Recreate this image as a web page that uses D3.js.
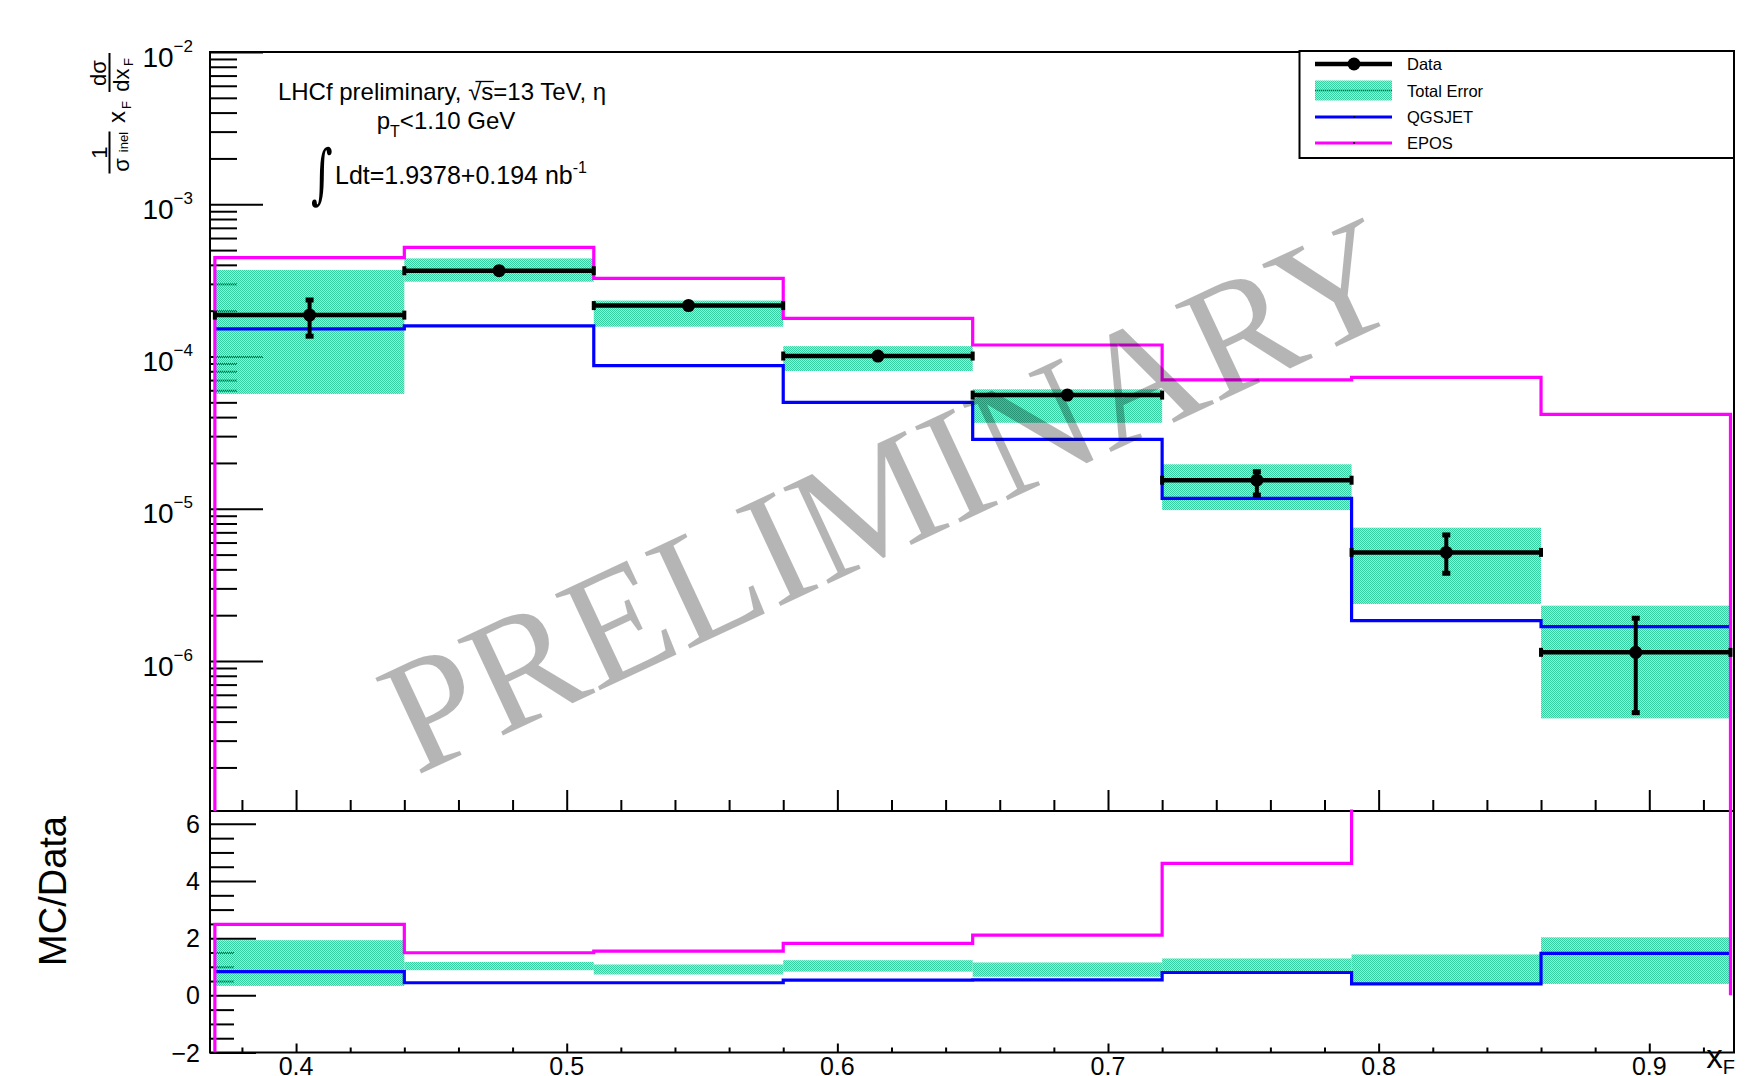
<!DOCTYPE html>
<html>
<head>
<meta charset="utf-8">
<script src="https://cdn.jsdelivr.net/npm/d3@7"></script>
<style>
  body { margin: 0; background: #fff; }
  svg { display: block; }
  text { font-family: "Liberation Sans", Arial, Helvetica, sans-serif; fill: #000; }
  text.serif { font-family: "Liberation Serif", "Times New Roman", serif; }
  text.intsign { font-family: "DejaVu Serif", "Liberation Serif", serif; }
</style>
</head>
<body>
<svg id="chart" width="1756" height="1076"></svg>
<script>
// ---- data: eta production cross section vs x_F (8 bins of width 0.07) ----
const binEdges = [0.37, 0.44, 0.51, 0.58, 0.65, 0.72, 0.79, 0.86, 0.93];
const dataValues   = [1.87e-4, 3.66e-4, 2.16e-4, 1.007e-4, 5.58e-5, 1.54e-5, 5.17e-6, 1.14e-6];
const statLow      = [1.36e-4, 3.55e-4, 2.10e-4, 0.98e-4, 5.40e-5, 1.23e-5, 3.77e-6, 4.58e-7];
const statHigh     = [2.35e-4, 3.80e-4, 2.24e-4, 1.04e-4, 5.80e-5, 1.75e-5, 6.73e-6, 1.91e-6];
const totalErrLow  = [5.68e-5, 3.10e-4, 1.57e-4, 8.03e-5, 3.67e-5, 9.8e-6, 2.37e-6, 4.20e-7];
const totalErrHigh = [3.70e-4, 4.41e-4, 2.33e-4, 1.17e-4, 6.09e-5, 1.96e-5, 7.51e-6, 2.31e-6];
const qgsjetValues = [1.52e-4, 1.59e-4, 8.71e-5, 5.0e-5, 2.86e-5, 1.17e-5, 1.84e-6, 1.68e-6];
const eposValues   = [4.46e-4, 5.21e-4, 3.26e-4, 1.78e-4, 1.19e-4, 7.02e-5, 7.29e-5, 4.17e-5];

// MC / Data ratios
const ratioErrLow  = [0.33, 0.88, 0.73, 0.83, 0.65, 0.80, 0.42, 0.40];
const ratioErrHigh = [1.93, 1.17, 1.08, 1.23, 1.15, 1.29, 1.43, 2.03];
const ratioQgsjet  = [0.83, 0.44, 0.44, 0.53, 0.54, 0.80, 0.40, 1.47];
const ratioEpos    = [2.48, 1.49, 1.55, 1.82, 2.11, 4.62, 14.1, 36.6];

// ticks and labels
const xMajorTicks = [0.4, 0.5, 0.6, 0.7, 0.8, 0.9];
const xTickLabels = ["0.4", "0.5", "0.6", "0.7", "0.8", "0.9"];
const yDecades = [-2, -3, -4, -5, -6];
const ratioMajorTicks = [-2, 0, 2, 4, 6];
const ratioTickLabels = ["\u22122", "0", "2", "4", "6"];
const legendLabels = ["Data", "Total Error", "QGSJET", "EPOS"];

// ---- geometry ----
const left = 210, right = 1734;
const topY = 52, midY = 811, botY = 1052.5;
const C_EPOS = "#ff00ff", C_QGS = "#0000ff", C_ERR = "#36cfa4";

const svg = d3.select("#chart");
const x = d3.scaleLinear().domain([0.3682, 0.9313]).range([left, right]);
const y = d3.scaleLog().domain([1e-2, 1.035e-7]).range([topY, midY]);
const yr = d3.scaleLinear().domain([-2, 6.45]).range([botY, midY]);

// fill pattern for the total-error band (semi-transparent dot texture)
const defs = svg.append("defs");
const pat = defs.append("pattern").attr("id", "errfill")
  .attr("patternUnits", "userSpaceOnUse").attr("width", 2).attr("height", 2);
pat.append("rect").attr("width", 2).attr("height", 2).attr("fill", C_ERR).attr("fill-opacity", 0.45);
pat.append("rect").attr("width", 1).attr("height", 1).attr("fill", C_ERR);
pat.append("rect").attr("x", 1).attr("y", 1).attr("width", 1).attr("height", 1).attr("fill", C_ERR);

defs.append("clipPath").attr("id", "clipTop").append("rect")
  .attr("x", left).attr("y", topY).attr("width", right - left).attr("height", midY - topY);
defs.append("clipPath").attr("id", "clipBot").append("rect")
  .attr("x", left).attr("y", midY - 1.5).attr("width", right - left).attr("height", botY - midY + 1.5);

const bins = d3.range(binEdges.length - 1).map(i => ({
  lo: binEdges[i], hi: binEdges[i + 1], mid: (binEdges[i] + binEdges[i + 1]) / 2,
  val: dataValues[i], sLo: statLow[i], sHi: statHigh[i],
  eLo: totalErrLow[i], eHi: totalErrHigh[i],
  rLo: ratioErrLow[i], rHi: ratioErrHigh[i]
}));

// ---- axes: ticks ----
function minorValues(step, from, to, majors) {
  const out = [];
  for (let v = from; v <= to + 1e-9; v += step) {
    const r = Math.round(v * 1000) / 1000;
    if (!majors.some(m => Math.abs(m - r) < 1e-6)) out.push(r);
  }
  return out;
}
const xMinor = minorValues(0.02, 0.38, 0.92, xMajorTicks);

function tickAxis(axis, tx, ty) {
  svg.append("g").attr("transform", `translate(${tx},${ty})`)
    .call(axis)
    .call(g => g.select(".domain").remove())
    .call(g => g.selectAll("line").attr("stroke", "#000").attr("stroke-width", 2));
}
// top panel x ticks (pointing up from the bottom of the panel)
tickAxis(d3.axisBottom(x).tickValues(xMajorTicks).tickSize(-21).tickFormat(""), 0, midY);
tickAxis(d3.axisBottom(x).tickValues(xMinor).tickSize(-11).tickFormat(""), 0, midY);
// bottom panel x ticks
tickAxis(d3.axisBottom(x).tickValues(xMajorTicks).tickSize(-9).tickFormat(""), 0, botY);
tickAxis(d3.axisBottom(x).tickValues(xMinor).tickSize(-5).tickFormat(""), 0, botY);

// log y ticks
const yMajorVals = yDecades.map(d => Math.pow(10, d));
const yMinorVals = [];
for (let d = -8; d <= -3; d++) for (let k = 2; k <= 9; k++) {
  const v = k * Math.pow(10, d);
  if (v > 1.035e-7 && v < 1e-2) yMinorVals.push(v);
}
tickAxis(d3.axisLeft(y).tickValues(yMajorVals).tickSize(-53).tickFormat(""), left, 0);
tickAxis(d3.axisLeft(y).tickValues(yMinorVals).tickSize(-27).tickFormat(""), left, 0);

// ratio y ticks
const rMinor = minorValues(0.5, -1.5, 6, ratioMajorTicks);
tickAxis(d3.axisLeft(yr).tickValues(ratioMajorTicks).tickSize(-46).tickFormat(""), left, 0);
tickAxis(d3.axisLeft(yr).tickValues(rMinor).tickSize(-24).tickFormat(""), left, 0);

// frames
svg.append("rect").attr("x", left).attr("y", topY).attr("width", right - left).attr("height", midY - topY)
  .attr("fill", "none").attr("stroke", "#000").attr("stroke-width", 2);
svg.append("rect").attr("x", left).attr("y", midY).attr("width", right - left).attr("height", botY - midY)
  .attr("fill", "none").attr("stroke", "#000").attr("stroke-width", 2);

// ---- tick labels ----
const yLab = svg.append("g");
yDecades.forEach(d => {
  const t = yLab.append("text").attr("x", 193).attr("y", y(Math.pow(10, d)) + 14.5)
    .attr("text-anchor", "end").attr("font-size", 28);
  t.append("tspan").text("10");
  t.append("tspan").attr("dy", -15).attr("font-size", 17).text("\u2212" + (-d));
});
ratioMajorTicks.forEach((v, i) => {
  svg.append("text").attr("x", 200).attr("y", yr(v) + 9).attr("text-anchor", "end")
    .attr("font-size", 25).text(ratioTickLabels[i]);
});
xMajorTicks.forEach((v, i) => {
  svg.append("text").attr("x", x(v)).attr("y", 1074.5).attr("text-anchor", "middle")
    .attr("font-size", 25).text(xTickLabels[i]);
});
// x axis title
const xt = svg.append("text").attr("x", 1735).attr("y", 1068).attr("text-anchor", "end").attr("font-size", 33);
xt.append("tspan").text("x");
xt.append("tspan").attr("dy", 6).attr("font-size", 20).text("F");

// ratio axis title
svg.append("text").attr("transform", "translate(66,891) rotate(-90)")
  .attr("text-anchor", "middle").attr("font-size", 38).text("MC/Data");

// top y axis title: 1/sigma_inel x_F dsigma/dx_F
function rtext(px, py, size, str) {
  return svg.append("text").attr("transform", `translate(${px},${py}) rotate(-90)`)
    .attr("text-anchor", "middle").attr("font-size", size).text(str);
}
rtext(107, 152.5, 22, "1");
svg.append("line").attr("x1", 109.5).attr("x2", 109.5).attr("y1", 131.5).attr("y2", 173.5)
  .attr("stroke", "#000").attr("stroke-width", 2);
rtext(129, 165, 22, "\u03c3");
rtext(128, 142, 13, "inel");
rtext(124.5, 117, 24, "x");
rtext(131, 105, 13, "F");
rtext(106, 73, 22, "d\u03c3");
svg.append("line").attr("x1", 109.5).attr("x2", 109.5).attr("y1", 53).attr("y2", 92)
  .attr("stroke", "#000").attr("stroke-width", 2);
rtext(128.5, 80, 22, "dx");
rtext(133, 62, 13, "F");

// ---- annotation ----
const ann = svg.append("text").attr("x", 442).attr("y", 100).attr("text-anchor", "middle").attr("font-size", 24);
ann.append("tspan").text("LHCf preliminary, \u221a");
ann.append("tspan").text("s");
ann.append("tspan").text("=13 TeV, \u03b7");
const pt = svg.append("text").attr("x", 446).attr("y", 129).attr("text-anchor", "middle").attr("font-size", 24);
pt.append("tspan").text("p");
pt.append("tspan").attr("dy", 8).attr("font-size", 16).text("T");
pt.append("tspan").attr("dy", -8).text("<1.10 GeV");
svg.append("text").attr("class", "intsign").attr("transform", "translate(311,196) scale(0.8,1.25)")
  .attr("font-size", 52).text("\u222b");
const lum = svg.append("text").attr("x", 335).attr("y", 184).attr("font-size", 25);
lum.append("tspan").text("Ldt=1.9378+0.194 nb");
lum.append("tspan").attr("dy", -11).attr("font-size", 16).text("-1");

// overbar on the s of sqrt(s)
{
  const node = ann.node();
  const full = ann.text();
  const idx = full.indexOf("\u221a") + 1;
  const ext = node.getExtentOfChar(idx);
  const extR = node.getExtentOfChar(idx - 1);
  svg.append("line").attr("x1", extR.x + extR.width * 0.55).attr("x2", ext.x + ext.width + 0.5)
    .attr("y1", ext.y + 3.5).attr("y2", ext.y + 3.5).attr("stroke", "#000").attr("stroke-width", 1.3);
}

// ---- plot contents: top panel ----
const gTop = svg.append("g").attr("clip-path", "url(#clipTop)");

// total error bands
gTop.selectAll("rect.band").data(bins).join("rect").attr("class", "band")
  .attr("x", d => x(d.lo)).attr("width", d => x(d.hi) - x(d.lo))
  .attr("y", d => y(d.eHi)).attr("height", d => y(d.eLo) - y(d.eHi))
  .attr("fill", "url(#errfill)");

function stepPoints(values) {
  const pts = [];
  values.forEach((v, i) => { pts.push([binEdges[i], v]); pts.push([binEdges[i + 1], v]); });
  return pts;
}
const lineTop = d3.line().x(p => x(p[0])).y(p => y(p[1]));
const lineBot = d3.line().x(p => x(p[0])).y(p => yr(p[1]));

// QGSJET
gTop.append("path").attr("d", lineTop(stepPoints(qgsjetValues)))
  .attr("fill", "none").attr("stroke", C_QGS).attr("stroke-width", 3.2);
// EPOS (histogram outline closed to the bottom of the panel)
{
  const yMin = y.domain()[1];
  const pts = [[binEdges[0], yMin], ...stepPoints(eposValues), [binEdges[binEdges.length - 1], yMin]];
  svg.append("path").attr("d", lineTop(pts))
    .attr("fill", "none").attr("stroke", C_EPOS).attr("stroke-width", 3.2);
}

// data points
const gData = svg.append("g");
bins.forEach(d => {
  const cy = y(d.val), cx = x(d.mid);
  gData.append("line").attr("x1", x(d.lo)).attr("x2", x(d.hi)).attr("y1", cy).attr("y2", cy)
    .attr("stroke", "#000").attr("stroke-width", 4.5);
  [d.lo, d.hi].forEach(e => gData.append("line").attr("x1", x(e)).attr("x2", x(e))
    .attr("y1", cy - 4.5).attr("y2", cy + 4.5).attr("stroke", "#000").attr("stroke-width", 4));
  gData.append("line").attr("x1", cx).attr("x2", cx).attr("y1", y(d.sHi)).attr("y2", y(d.sLo))
    .attr("stroke", "#000").attr("stroke-width", 4);
  [d.sHi, d.sLo].forEach(e => gData.append("line").attr("x1", cx - 4).attr("x2", cx + 4)
    .attr("y1", y(e)).attr("y2", y(e)).attr("stroke", "#000").attr("stroke-width", 5));
  gData.append("circle").attr("cx", cx).attr("cy", cy).attr("r", 6.5).attr("fill", "#000");
});

// ---- ratio panel ----
const gBot = svg.append("g").attr("clip-path", "url(#clipBot)");
gBot.selectAll("rect.rband").data(bins).join("rect").attr("class", "rband")
  .attr("x", d => x(d.lo)).attr("width", d => x(d.hi) - x(d.lo))
  .attr("y", d => yr(d.rHi)).attr("height", d => yr(d.rLo) - yr(d.rHi))
  .attr("fill", "url(#errfill)");
gBot.append("path").attr("d", lineBot(stepPoints(ratioQgsjet)))
  .attr("fill", "none").attr("stroke", C_QGS).attr("stroke-width", 3.2);
{
  const pts = [[binEdges[0], yr.domain()[0]], ...stepPoints(ratioEpos), [binEdges[binEdges.length - 1], 0]];
  gBot.append("path").attr("d", lineBot(pts))
    .attr("fill", "none").attr("stroke", C_EPOS).attr("stroke-width", 3.2);
}

// ---- legend ----
const lg = svg.append("g");
lg.append("rect").attr("x", 1299.5).attr("y", 51).attr("width", 434.5).attr("height", 107)
  .attr("fill", "#fff").attr("stroke", "#000").attr("stroke-width", 2);
const legY = [64, 90.5, 117, 143];
const sx1 = 1315, sx2 = 1392, smid = 1354;
// Data
lg.append("line").attr("x1", sx1).attr("x2", sx2).attr("y1", legY[0]).attr("y2", legY[0])
  .attr("stroke", "#000").attr("stroke-width", 4.5);
lg.append("circle").attr("cx", smid).attr("cy", legY[0]).attr("r", 6.5).attr("fill", "#000");
// Total error
lg.append("line").attr("x1", sx1).attr("x2", sx2).attr("y1", legY[1]).attr("y2", legY[1])
  .attr("stroke", "#000").attr("stroke-width", 1.5);
lg.append("rect").attr("x", sx1).attr("y", legY[1] - 10).attr("width", sx2 - sx1).attr("height", 20)
  .attr("fill", "url(#errfill)");
// QGSJET / EPOS
[[C_QGS, legY[2]], [C_EPOS, legY[3]]].forEach(([c, ly]) => {
  lg.append("line").attr("x1", sx1).attr("x2", sx2).attr("y1", ly).attr("y2", ly)
    .attr("stroke", c).attr("stroke-width", 3.2);
  lg.append("circle").attr("cx", smid).attr("cy", ly).attr("r", 1).attr("fill", "#000");
});
legendLabels.forEach((t, i) => {
  lg.append("text").attr("x", 1407).attr("y", legY[i] + 6).attr("font-size", 16.5).text(t);
});

// ---- watermark ----
svg.append("text").attr("class", "serif").attr("transform", "translate(416,776) rotate(-25)")
  .attr("font-size", 162)
  .style("fill", "#000").attr("fill-opacity", 0.29).text("PRELIMINARY");
</script>
</body>
</html>
